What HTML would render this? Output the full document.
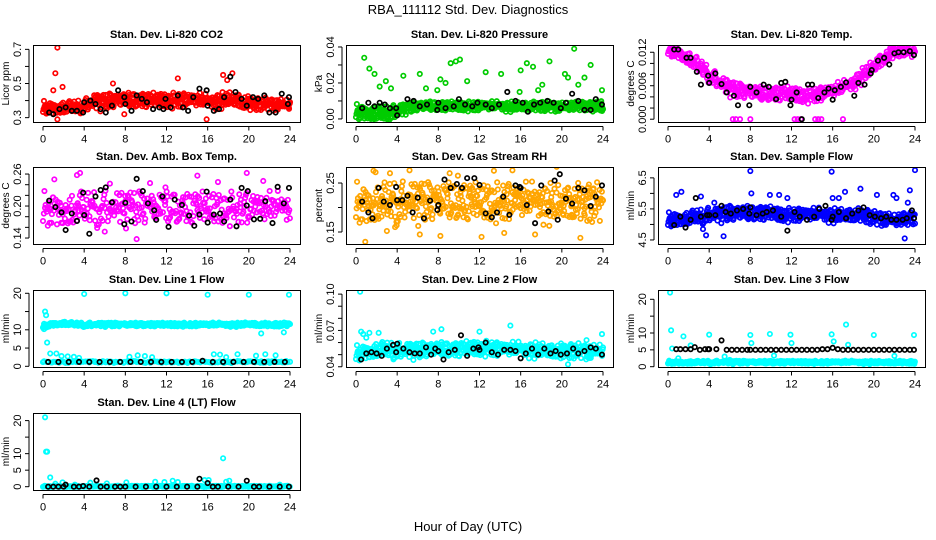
<!DOCTYPE html>
<html><head><meta charset="utf-8"><style>
body{margin:0;background:#fff;}
svg{display:block;font-family:"Liberation Sans",Arial,sans-serif;}
</style></head><body>
<svg id="chart" width="936" height="540" viewBox="0 0 936 540" xmlns="http://www.w3.org/2000/svg">
<text x="468" y="14" text-anchor="middle" font-size="13">RBA_111112  Std. Dev. Diagnostics</text>
<text x="468" y="531" text-anchor="middle" font-size="13">Hour of Day (UTC)</text>
</svg>
<script>
// ---------- data (hourly cloud means/spreads, outliers, black points) ----------
const hours = [0,1,2,3,4,5,6,7,8,9,10,11,12,13,14,15,16,17,18,19,20,21,22,23,24];
const xTicks = [0,4,8,12,16,20,24];

const co2Mean = [0.36,0.36,0.36,0.36,0.37,0.39,0.39,0.40,0.40,0.40,0.40,0.40,0.40,0.40,0.40,0.40,0.39,0.40,0.41,0.40,0.38,0.38,0.38,0.38,0.38];
const co2Spread = [0.04,0.04,0.04,0.04,0.04,0.05,0.05,0.05,0.05,0.05,0.05,0.05,0.05,0.05,0.05,0.05,0.05,0.05,0.05,0.05,0.05,0.04,0.04,0.04,0.04];
const co2OutX = [1.4,1.2,1.0,1.9,13.1,17.5,18.4,7.9,15.9,1.4,17.9,6.8];
const co2OutY = [0.71,0.56,0.46,0.48,0.53,0.55,0.56,0.32,0.29,0.29,0.52,0.50];
const co2BlkX = [0.6,1.0,1.6,2.2,2.8,3.3,3.9,4.0,4.6,5.1,5.6,6.1,6.7,7.3,7.9,8.0,8.6,9.1,9.6,10.1,10.7,11.3,11.7,11.9,12.4,13.1,13.6,14.1,14.6,15.2,15.9,16.0,16.6,17.1,17.6,18.2,18.7,19.3,19.8,20.4,20.9,21.5,22.0,22.6,23.2,23.8,23.9];
const co2BlkY = [0.33,0.32,0.35,0.36,0.34,0.34,0.33,0.39,0.40,0.38,0.35,0.33,0.37,0.46,0.42,0.38,0.34,0.43,0.41,0.39,0.35,0.36,0.35,0.41,0.36,0.43,0.36,0.34,0.42,0.47,0.46,0.37,0.34,0.35,0.42,0.54,0.45,0.41,0.37,0.42,0.41,0.43,0.33,0.33,0.44,0.38,0.42];

const prMean = [0.004,0.004,0.003,0.003,0.004,0.006,0.007,0.007,0.007,0.007,0.007,0.007,0.007,0.007,0.007,0.007,0.007,0.007,0.007,0.007,0.007,0.007,0.007,0.007,0.007];
const prSpread = [0.0045,0.0045,0.0045,0.0045,0.004,0.003,0.003,0.003,0.003,0.003,0.003,0.003,0.003,0.003,0.003,0.003,0.003,0.003,0.003,0.003,0.003,0.003,0.003,0.003,0.003];
const prOutX = [0.8,1.3,1.8,2.3,2.9,3.4,4.6,6.2,6.8,7.9,8.2,8.7,9.2,9.7,10.1,10.8,12.6,14.1,15.9,16.0,16.6,17.2,17.7,18.1,18.8,20.3,20.6,21.2,21.6,22.2,22.8,23.9];
const prOutY = [0.034,0.028,0.025,0.018,0.021,0.017,0.024,0.025,0.017,0.016,0.022,0.020,0.031,0.032,0.033,0.021,0.026,0.025,0.015,0.027,0.031,0.029,0.016,0.019,0.032,0.025,0.023,0.039,0.019,0.023,0.030,0.016];
const prBlkX = [0.6,1.2,1.8,2.3,2.8,3.3,3.9,4.0,5.0,5.6,6.2,6.9,7.9,8.0,8.7,9.5,10.0,10.6,11.3,11.8,12.6,13.2,13.9,14.7,15.5,16.2,16.7,17.3,17.9,18.6,19.2,19.9,20.4,21.0,21.6,22.2,22.8,23.3,23.9];
const prBlkY = [0.006,0.009,0.007,0.009,0.008,0.006,0.006,0.002,0.011,0.010,0.007,0.008,0.005,0.009,0.006,0.007,0.011,0.008,0.007,0.009,0.008,0.006,0.008,0.015,0.010,0.009,0.004,0.008,0.009,0.010,0.009,0.006,0.009,0.014,0.010,0.005,0.005,0.011,0.008];

const tpMean = [0.0125,0.012,0.011,0.0095,0.008,0.0065,0.0055,0.005,0.0048,0.0045,0.0045,0.0045,0.0045,0.0042,0.0042,0.0045,0.005,0.0055,0.0065,0.008,0.0095,0.011,0.012,0.0125,0.012];
const tpSpread = [0.0012,0.0012,0.0014,0.0015,0.0015,0.0015,0.0015,0.0015,0.0015,0.0015,0.0015,0.0015,0.0015,0.0015,0.0015,0.0015,0.0015,0.0015,0.0015,0.0015,0.0015,0.0014,0.0012,0.0012,0.0012];
const tpOutX = [6.3,6.6,7.0,8.0,12.3,12.6,12.9,14.3,14.6,14.9,17.0];
const tpOutY = [0,0,0,0,0,0,0,0,0,0,0];
const tpBlkX = [0.6,1.0,1.8,2.2,2.8,3.2,3.9,4.0,4.6,5.2,5.7,6.4,6.8,7.9,8.0,8.6,9.3,9.8,10.5,11.0,11.4,11.9,12.0,12.5,13.0,13.6,14.0,14.6,15.2,15.6,16.0,16.2,16.8,17.3,18.1,18.5,19.1,19.7,19.8,20.4,21.0,21.5,22.0,22.4,22.9,23.5,23.9];
const tpBlkY = [0.0125,0.0125,0.011,0.011,0.0085,0.0062,0.0078,0.0065,0.0082,0.0063,0.0048,0.0042,0.0025,0.0025,0.0058,0.0048,0.0062,0.0058,0.0036,0.0065,0.0067,0.0025,0.0035,0.0048,0.0,0.0062,0.0062,0.0038,0.0048,0.0055,0.0035,0.0052,0.0058,0.0066,0.0042,0.0065,0.0062,0.0082,0.0088,0.0105,0.011,0.0098,0.0118,0.012,0.012,0.0122,0.0115];

const abMean = new Array(25).fill(0.195);
const abSpread = new Array(25).fill(0.035);
const abOutX = [3.3,3.6,1.1,6.0,6.5,10.4,15.0,19.8,21.4,17.0,11.9,9.1];
const abOutY = [0.258,0.262,0.25,0.152,0.242,0.243,0.257,0.262,0.247,0.245,0.235,0.138];
const abBlkX = [0.6,1.2,1.8,2.2,2.8,3.3,3.9,4.0,4.5,5.1,5.6,6.1,6.7,7.9,8.0,8.6,9.1,9.7,10.2,10.8,11.0,11.6,12.2,12.8,13.5,14.2,14.7,15.2,15.9,16.0,16.6,17.2,17.6,18.2,18.8,19.3,19.8,19.9,20.5,21.1,21.6,22.3,22.8,23.4,23.9];
const abBlkY = [0.21,0.198,0.188,0.155,0.186,0.172,0.225,0.183,0.148,0.218,0.23,0.235,0.207,0.166,0.206,0.171,0.251,0.228,0.205,0.192,0.174,0.218,0.161,0.212,0.202,0.182,0.163,0.184,0.227,0.169,0.184,0.186,0.171,0.212,0.162,0.234,0.201,0.228,0.175,0.176,0.209,0.168,0.236,0.205,0.234];

const rhMean = new Array(25).fill(0.21);
const rhSpread = new Array(25).fill(0.045);
const rhOutX = [0.9,1.7,1.9,3.0,3.3,5.2,6.2,8.2,9.1,12.2,12.9,14.4,15.2,17.4,19.5,21.8,3.8,9.9,13.4];
const rhOutY = [0.13,0.275,0.272,0.152,0.27,0.276,0.145,0.142,0.27,0.14,0.29,0.148,0.276,0.145,0.283,0.138,0.16,0.265,0.275];
const rhBlkX = [0.6,1.2,1.6,2.2,2.7,3.3,3.9,4.0,4.5,5.0,5.5,6.0,6.6,7.2,7.9,8.0,8.6,9.2,9.8,10.3,10.8,11.5,12.0,12.6,13.2,13.7,14.3,14.9,15.5,15.9,16.0,16.6,17.4,18.0,18.7,19.3,19.6,19.8,20.4,21.0,21.6,22.2,22.8,23.3,23.9];
const rhBlkY = [0.212,0.19,0.178,0.24,0.212,0.205,0.242,0.215,0.215,0.224,0.19,0.22,0.178,0.214,0.195,0.205,0.257,0.24,0.248,0.24,0.26,0.26,0.246,0.188,0.18,0.19,0.222,0.185,0.245,0.242,0.24,0.205,0.168,0.245,0.192,0.255,0.175,0.268,0.218,0.208,0.24,0.235,0.203,0.222,0.245];

const sfMean = [5.15,5.2,5.2,5.25,5.3,5.3,5.35,5.35,5.35,5.35,5.35,5.3,5.3,5.3,5.3,5.3,5.3,5.3,5.3,5.3,5.2,5.2,5.15,5.15,5.2];
const sfSpread = [0.25,0.25,0.25,0.25,0.25,0.25,0.27,0.27,0.27,0.27,0.25,0.25,0.25,0.25,0.25,0.25,0.25,0.25,0.25,0.25,0.25,0.25,0.25,0.25,0.25];
const sfOutX = [0.8,1.3,3.2,3.7,5.4,8.0,8.1,9.9,10.8,11.6,15.9,16.0,16.6,17.2,18.7,20.3,21.9,22.2,23.5,23.3,24.0,23.0,4.5,3.4];
const sfOutY = [5.95,6.05,5.9,4.65,4.62,6.72,6.0,5.95,5.95,5.85,6.7,5.85,5.85,6.05,6.15,5.95,5.95,5.85,6.1,5.7,6.75,4.55,5.7,4.85];
const sfBlkX = [0.6,1.2,1.7,2.2,2.7,3.2,3.8,4.0,4.6,5.2,5.6,6.1,6.7,7.3,7.9,8.0,8.6,9.2,9.6,10.2,11.0,11.6,12.3,12.8,13.5,14.2,14.7,15.3,15.9,16.0,16.6,17.3,17.9,18.5,19.0,19.6,20.1,20.7,21.2,21.7,22.2,22.8,23.2,23.7,23.9];
const sfBlkY = [4.98,5.25,4.9,5.15,5.85,5.25,5.3,5.3,5.3,5.6,5.4,5.35,5.45,5.5,5.35,5.55,5.3,5.35,5.4,5.45,5.25,4.8,5.4,5.25,5.15,5.25,5.5,5.6,5.15,5.25,5.4,5.2,5.35,5.45,5.55,5.3,5.25,5.2,5.25,5.15,5.15,5.15,5.2,5.45,5.2];

const l1Mean = [11.0,11.6,11.8,11.5,11.4,11.4,11.4,11.4,11.4,11.4,11.4,11.4,11.4,11.4,11.4,11.4,11.4,11.4,11.4,11.4,11.6,11.4,11.4,11.4,11.5];
const l1Spread = new Array(25).fill(0.6);
const l1LowMean = new Array(25).fill(1.2);
const l1LowSpread = new Array(25).fill(0.3);
const l1OutX = [0.1,0.2,0.3,0.4,0.7,1.3,1.8,2.4,3.0,3.5,4.0,8.0,8.4,9.2,9.9,10.6,12.0,16.0,16.6,17.2,17.8,18.9,20.0,20.7,21.2,21.6,22.6,23.4,23.9];
const l1OutY = [10.2,15.0,14.0,6.5,3.5,3.5,2.8,2.7,2.6,2.3,19.8,20.0,2.6,3.0,2.8,2.5,20.0,19.6,3.3,3.2,2.5,3.3,19.6,2.9,9.0,3.3,3.0,9.3,19.6];
const l1BlkX = hours.slice(1).map(h=>h-0.5);
const l1BlkY = [1.2,1.2,1.2,1.2,1.2,1.2,1.2,1.2,1.2,1.2,1.2,1.2,1.2,1.2,1.2,1.5,1.2,1.2,1.2,1.2,1.2,1.2,1.2,1.2];

const l2Mean = [0.051,0.053,0.054,0.054,0.053,0.053,0.053,0.054,0.054,0.054,0.054,0.055,0.055,0.055,0.054,0.054,0.054,0.054,0.054,0.053,0.053,0.053,0.053,0.053,0.054];
const l2Spread = new Array(25).fill(0.007);
const l2OutX = [0.4,0.5,0.7,1.0,1.3,2.2,7.5,8.3,12.0,15.0,23.9,22.4,19.9,20.6];
const l2OutY = [0.102,0.069,0.067,0.064,0.068,0.068,0.069,0.071,0.069,0.074,0.067,0.062,0.047,0.042];
const l2BlkX = [0.5,1.0,1.5,2.0,2.5,3.0,3.6,3.9,4.0,4.6,5.2,5.7,6.2,6.8,7.3,7.7,8.0,8.5,9.0,9.6,10.2,10.8,11.4,11.9,12.0,12.6,13.2,13.8,14.4,15.0,15.5,16.0,16.5,17.1,17.7,18.3,18.9,19.4,19.9,20.5,21.1,21.6,22.2,22.8,23.3,23.9];
const l2BlkY = [0.046,0.051,0.052,0.051,0.049,0.055,0.058,0.052,0.059,0.055,0.052,0.051,0.051,0.056,0.050,0.055,0.053,0.046,0.052,0.054,0.066,0.049,0.055,0.056,0.054,0.060,0.052,0.050,0.054,0.054,0.053,0.047,0.051,0.055,0.050,0.055,0.051,0.053,0.050,0.051,0.055,0.051,0.053,0.056,0.055,0.050];

const l3Mean = new Array(25).fill(1.3);
const l3Spread = new Array(25).fill(0.5);
const l3OutX = [0.2,0.3,0.4,1.5,2.2,4.0,6.0,8.0,8.1,9.9,11.9,12.0,15.9,17.3,17.5,20.0,22.0,23.9,1.0,5.5,16.1,10.3];
const l3OutY = [22.0,10.8,5.4,9.0,6.3,9.5,2.0,9.4,7.0,9.7,9.5,7.0,9.6,12.5,6.5,9.4,3.2,9.4,2.5,3.0,7.5,3.3];
const l3BlkX = [0.8,1.2,1.7,2.2,2.6,3.1,3.6,3.9,4.0,4.7,5.2,5.7,6.2,6.7,7.2,7.7,8.0,8.5,9.0,9.5,10.0,10.5,11.0,11.5,12.0,12.5,13.0,13.5,14.0,14.5,15.0,15.5,16.0,16.5,17.0,17.5,18.0,18.5,19.0,19.5,20.0,20.5,21.0,21.5,22.0,22.5,23.0,23.5,23.9];
const l3BlkY = [5.2,5.2,5.2,5.2,5.8,5.0,5.2,5.2,5.2,5.2,7.8,5.0,5.0,5.0,5.0,5.0,5.0,5.0,5.0,5.0,5.0,5.0,5.0,5.0,5.0,5.0,5.0,5.0,5.0,5.0,5.2,5.2,5.6,5.2,5.0,5.0,5.0,5.0,5.0,5.0,5.0,5.0,5.0,5.0,5.0,5.0,5.0,5.0,5.0];

const l4Mean = new Array(25).fill(0.1);
const l4Spread = new Array(25).fill(0.2);
const l4OutX = [0.2,0.3,0.4,0.7,1.2,1.9,3.1,4.6,6.2,8.1,10.9,11.8,12.6,13.1,15.7,16.1,17.5,17.8,18.1,23.0];
const l4OutY = [21.0,10.6,10.6,2.8,0.9,1.3,0.6,1.2,1.0,1.3,1.5,1.4,1.8,1.4,2.0,2.0,8.6,1.5,1.8,0.6];
const l4BlkX = [0.5,1.0,1.5,2.0,2.2,3.0,3.5,3.9,4.5,5.2,5.6,6.2,7.0,7.5,8.0,9.0,10.0,11.0,12.0,13.0,14.0,15.0,15.2,16.0,16.5,17.0,18.0,19.0,19.8,20.5,21.0,22.0,23.0,23.9];
const l4BlkY = [0,0,0,0,0.6,0,0,0.2,0,1.9,0,0,0,0,0,0,0,0,0,0,0,0,2.4,1.1,0,0,0,0,1.8,0,0,0,0,0];

// ---------- layout & rendering ----------
const NS = 'http://www.w3.org/2000/svg';
const svg = document.getElementById('chart');
const colLeft = [33,346,658], rowTop = [45,167,290,413], boxW = 267, boxH = 77;

const panels = [
 {name:'co2',title:'Stan. Dev. Li-820 CO2',yl:'Licor ppm',usr:[0.2745,0.7255],ticks:[0.3,0.4,0.5,0.6,0.7],labs:['0.3','','0.5','','0.7'],col:'#ff0000',clouds:[[co2Mean,co2Spread,520]],ox:co2OutX,oy:co2OutY,bx:co2BlkX,by:co2BlkY},
 {name:'pressure',title:'Stan. Dev. Li-820 Pressure',yl:'kPa',usr:[-0.0017,0.0411],ticks:[0,0.01,0.02,0.03,0.04],labs:['0.00','','0.02','','0.04'],col:'#00cc00',clouds:[[prMean,prSpread,600]],ox:prOutX,oy:prOutY,bx:prBlkX,by:prBlkY},
 {name:'temp',title:'Stan. Dev. Li-820 Temp.',yl:'degrees C',usr:[-0.0005,0.0133],ticks:[0,0.002,0.004,0.006,0.008,0.010,0.012],labs:['0.000','','','0.006','','','0.012'],col:'#ff00ff',clouds:[[tpMean,tpSpread,480]],ox:tpOutX,oy:tpOutY,bx:tpBlkX,by:tpBlkY},
 {name:'amb-box',title:'Stan. Dev. Amb. Box Temp.',yl:'degrees C',usr:[0.1288,0.2732],ticks:[0.14,0.16,0.18,0.20,0.22,0.24,0.26],labs:['0.14','','','0.20','','','0.26'],col:'#ff00ff',clouds:[[abMean,abSpread,360]],ox:abOutX,oy:abOutY,bx:abBlkX,by:abBlkY},
 {name:'gas-rh',title:'Stan. Dev. Gas Stream RH',yl:'percent',usr:[0.1255,0.2827],ticks:[0.15,0.20,0.25],labs:['0.15','','0.25'],col:'#ffa500',clouds:[[rhMean,rhSpread,480]],ox:rhOutX,oy:rhOutY,bx:rhBlkX,by:rhBlkY},
 {name:'sample-flow',title:'Stan. Dev. Sample Flow',yl:'ml/min',usr:[4.37,6.85],ticks:[4.5,5,5.5,6,6.5],labs:['4.5','','5.5','','6.5'],col:'#0000ff',clouds:[[sfMean,sfSpread,560]],ox:sfOutX,oy:sfOutY,bx:sfBlkX,by:sfBlkY},
 {name:'line1',title:'Stan. Dev. Line 1 Flow',yl:'ml/min',usr:[-0.19,20.9],ticks:[0,5,10,15,20],labs:['0','5','10','','20'],col:'#00ffff',clouds:[[l1Mean,l1Spread,480],[l1LowMean,l1LowSpread,140]],ox:l1OutX,oy:l1OutY,bx:l1BlkX,by:l1BlkY},
 {name:'line2',title:'Stan. Dev. Line 2 Flow',yl:'ml/min',usr:[0.0398,0.1034],ticks:[0.04,0.05,0.06,0.07,0.08,0.09,0.10],labs:['0.04','','','0.07','','','0.10'],col:'#00ffff',clouds:[[l2Mean,l2Spread,520]],ox:l2OutX,oy:l2OutY,bx:l2BlkX,by:l2BlkY},
 {name:'line3',title:'Stan. Dev. Line 3 Flow',yl:'ml/min',usr:[-0.09,22.76],ticks:[0,5,10,15,20],labs:['0','5','10','','20'],col:'#00ffff',clouds:[[l3Mean,l3Spread,460]],ox:l3OutX,oy:l3OutY,bx:l3BlkX,by:l3BlkY},
 {name:'line4',title:'Stan. Dev. Line 4 (LT) Flow',yl:'ml/min',usr:[-1.0,22.3],ticks:[0,5,10,15,20],labs:['0','5','10','','20'],col:'#00ffff',clouds:[[l4Mean,l4Spread,300]],ox:l4OutX,oy:l4OutY,bx:l4BlkX,by:l4BlkY}
];

function mk(tag, attrs, parent){
  const e = document.createElementNS(NS, tag);
  for (const k in attrs) e.setAttribute(k, attrs[k]);
  (parent||svg).appendChild(e);
  return e;
}
function interp(arr, h){
  const i = Math.max(0, Math.min(23, Math.floor(h)));
  const t = h - i;
  return arr[i]*(1-t) + arr[i+1]*t;
}
// deterministic scatter texture within the spread band
function hashU(i, k){
  const s = Math.sin(i*12.9898 + k*78.233)*43758.5453;
  return s - Math.floor(s);
}

panels.forEach((p, idx) => {
  const L = colLeft[idx%3], T = rowTop[Math.floor(idx/3)];
  const xs = h => L + 10 + h*(boxW-20)/24;
  const ys = v => T + boxH - (v - p.usr[0])/(p.usr[1]-p.usr[0])*boxH;
  const g = mk('g', {});
  
  

  const title = mk('text', {x: L+boxW/2, y: T-7, 'text-anchor':'middle', 'font-size':11, 'font-weight':'bold'}, g);
  
  
  title.textContent = p.title;

  const clip = mk('clipPath', {id:'clip'+idx}, g);
  mk('rect', {x:L, y:T, width:boxW, height:boxH}, clip);
  const pts = mk('g', {'clip-path':'url(#clip'+idx+')', fill:'none', 'stroke-width':1.7}, g);
  
  

  p.clouds.forEach((c, ci) => {
    const [mean, spread, n] = c;
    for (let i=0;i<n;i++){
      const h = Math.min(24, Math.max(0, (i + hashU(i, ci+1) - 0.5)*24/(n-1)));
      const a = hashU(i, ci+7), b = hashU(i, ci+13);
      const u = (a + b) - 1; // triangular-ish in [-1,1]
      const v = interp(mean,h) + interp(spread,h)*u*1.1;
      const el = mk('circle', {cx: xs(h), cy: ys(v), r:2.2, stroke:p.col}, pts);
      
      
    }
  });
  p.ox.forEach((x,i) => {
    const el = mk('circle', {cx: xs(x), cy: ys(p.oy[i]), r:2.2, stroke:p.col}, pts);
    
    
  });
  p.bx.forEach((x,i) => {
    const el = mk('circle', {cx: xs(x), cy: ys(p.by[i]), r:2.2, stroke:'#000'}, pts);
    
    
  });

  const box = mk('rect', {x:L+0.5, y:T+0.5, width:boxW, height:boxH, fill:'none', stroke:'#000', 'stroke-width':1}, g);
  
  

  const xa = mk('g', {stroke:'#000','stroke-width':1}, g);
  
  
  const B = T+boxH+0.5;
  mk('line', {x1: xs(0), x2: xs(24), y1: B+4, y2: B+4}, xa);
  xTicks.forEach(t => {
    mk('line', {x1: xs(t), x2: xs(t), y1: B+4, y2: B+8}, xa);
    const tl = mk('text', {x: xs(t), y: B+20, 'text-anchor':'middle','font-size':11, stroke:'none', fill:'#000'}, g);
    
    
    tl.textContent = t;
  });

  const ya = mk('g', {stroke:'#000','stroke-width':1}, g);
  
  
  const AX = L-4;
  mk('line', {x1: AX, x2: AX, y1: ys(p.ticks[0]), y2: ys(p.ticks[p.ticks.length-1])}, ya);
  p.ticks.forEach((t,i) => {
    mk('line', {x1: AX-4, x2: AX, y1: ys(t), y2: ys(t)}, ya);
    if (p.labs[i]) {
      const tl = mk('text', {x:0, y:0, transform:`translate(${AX-8},${ys(t)}) rotate(-90)`, 'text-anchor':'middle','font-size':11, stroke:'none', fill:'#000'}, g);
      
      
      tl.textContent = p.labs[i];
    }
  });
  const yt = mk('text', {x:0, y:0, transform:`translate(${L-24},${T+boxH/2}) rotate(-90)`, 'text-anchor':'middle','font-size':10}, g);
  
  
  yt.textContent = p.yl;
});
</script>
</body></html>
